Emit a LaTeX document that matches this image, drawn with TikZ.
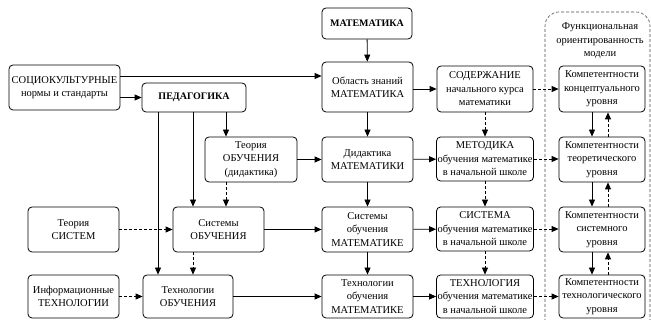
\documentclass[tikz,border=0pt]{standalone}
\usepackage{fontspec}
\setmainfont{Liberation Serif}
\usetikzlibrary{arrows.meta}
\tikzset{
  blk/.style={draw, rounded corners=4pt, align=center, inner sep=1pt, line width=0.8pt},
  arr/.style={line width=0.8pt, -{Triangle[length=7pt,width=6pt]}},
  darr/.style={arr, dash pattern=on 3pt off 2pt},
}

\begin{document}
\begin{tikzpicture}[x=1pt,y=-1pt,font=\rmfamily\fontsize{10.5}{13.5}\selectfont]
\useasboundingbox (0,0) rectangle (651,320);
% frame of the right column
\draw[line width=0.6pt, dash pattern=on 3pt off 2pt, rounded corners=14pt, black!70] (545,322) -- (545,12) -- (650,12) -- (650,322);
\node[align=center] (title) at (600,41) {Функциональная\\ориентированность\\модели};
% left part
\node[blk, minimum width=111, minimum height=45] (soc) at (64.5,87.5) {СОЦИОКУЛЬТУРНЫЕ\\нормы и стандарты};
\node[blk, minimum width=104, minimum height=29, font=\bfseries] (ped) at (194,97.5) {ПЕДАГОГИКА};
\node[blk, minimum width=92, minimum height=45] (teorob) at (251,159.5) {Теория\\ОБУЧЕНИЯ\\(дидактика)};
\node[blk, minimum width=91, minimum height=45] (teorsys) at (73.5,229.5) {Теория\\СИСТЕМ};
\node[blk, minimum width=91, minimum height=45] (sysob) at (218.5,229.5) {Системы\\ОБУЧЕНИЯ};
\node[blk, minimum width=91, minimum height=43] (info) at (73.5,296.5) {Информационные\\ТЕХНОЛОГИИ};
\node[blk, minimum width=90, minimum height=43] (techob) at (188,296.5) {Технологии\\ОБУЧЕНИЯ};
% middle column
\node[blk, minimum width=90, minimum height=31, font=\bfseries] (mat) at (367,23.5) {МАТЕМАТИКА};
\node[blk, minimum width=91, minimum height=50] (area) at (367.5,87) {Область знаний\\МАТЕМАТИКА};
\node[blk, minimum width=91, minimum height=45] (did) at (367.5,159.5) {Дидактика\\МАТЕМАТИКИ};
\node[blk, minimum width=91, minimum height=45] (sysm) at (367.5,229.5) {Системы\\обучения\\МАТЕМАТИКЕ};
\node[blk, minimum width=91, minimum height=43] (techm) at (367.5,296.5) {Технологии\\обучения\\МАТЕМАТИКЕ};
% school column
\node[blk, minimum width=96, minimum height=46] (cont) at (485,89) {СОДЕРЖАНИЕ\\начального курса\\математики};
\node[blk, minimum width=96, minimum height=44] (metod) at (485,159) {МЕТОДИКА\\обучения математике\\в начальной школе};
\node[blk, minimum width=96, minimum height=44] (sist) at (485,229) {СИСТЕМА\\обучения математике\\в начальной школе};
\node[blk, minimum width=96, minimum height=43] (tehn) at (485,296.5) {ТЕХНОЛОГИЯ\\обучения математике\\в начальной школе};
% competences
\node[blk, minimum width=86, minimum height=46] (k1) at (602,89) {Компетентности\\концептуального\\уровня};
\node[blk, minimum width=86, minimum height=45] (k2) at (602,159.5) {Компетентности\\теоретического\\уровня};
\node[blk, minimum width=86, minimum height=45] (k3) at (602,229.5) {Компетентности\\системного\\уровня};
\node[blk, minimum width=86, minimum height=43] (k4) at (602,296.5) {Компетентности\\технологического\\уровня};

% solid links
\draw[arr] (mat) -- (area);
\draw[arr] (area) -- (did);
\draw[arr] (did) -- (sysm);
\draw[arr] (sysm) -- (techm);
\draw[arr] (area.east |- cont.west) -- (cont.west);
\draw[arr] (did) -- (metod);
\draw[arr] (sysm) -- (sist);
\draw[arr] (techm) -- (tehn);
\draw[arr] ([yshift=11.5pt]soc.east) coordinate (s1) -- (s1 -| area.west);
\draw[arr] (soc.east |- ped.west) -- (ped.west);
\draw[arr] ([xshift=32pt]ped.south) -- ([xshift=32pt]ped.south |- teorob.north);
\draw[arr] ([xshift=-1pt]ped.south) -- ([xshift=-1pt]ped.south |- sysob.north);
\draw[arr] ([xshift=-36pt]ped.south) -- ([xshift=-36pt]ped.south |- techob.north);
\draw[arr] (teorob) -- (did);
\draw[arr] (sysob) -- (sysm);
\draw[arr] (techob) -- (techm);
\draw[arr] ([xshift=-10pt]k1.south) -- ([xshift=-10pt]k2.north);
\draw[arr] ([xshift=-10pt]k2.south) -- ([xshift=-10pt]k3.north);
\draw[arr] ([xshift=-10pt]k3.south) -- ([xshift=-10pt]k4.north);
% dashed links
\draw[darr] ([xshift=-25pt]teorob.south) -- ([xshift=-25pt]teorob.south |- sysob.north);
\draw[darr] (teorsys) -- (sysob);
\draw[darr] ([xshift=-25.5pt]sysob.south) -- ([xshift=-25.5pt]sysob.south |- techob.north);
\draw[darr] (info) -- (techob);
\draw[darr] (cont) -- (metod);
\draw[darr] (metod) -- (sist);
\draw[darr] (sist) -- (tehn);
\draw[darr] (cont) -- (k1);
\draw[darr] (metod) -- (metod.east -| k2.west);
\draw[darr] (sist) -- (sist.east -| k3.west);
\draw[darr] (tehn) -- (k4);
\draw[darr] ([xshift=6pt]k2.north) -- ([xshift=6pt]k1.south);
\draw[darr] ([xshift=6pt]k3.north) -- ([xshift=6pt]k2.south);
\draw[darr] ([xshift=6pt]k4.north) -- ([xshift=6pt]k3.south);
\end{tikzpicture}
\end{document}
